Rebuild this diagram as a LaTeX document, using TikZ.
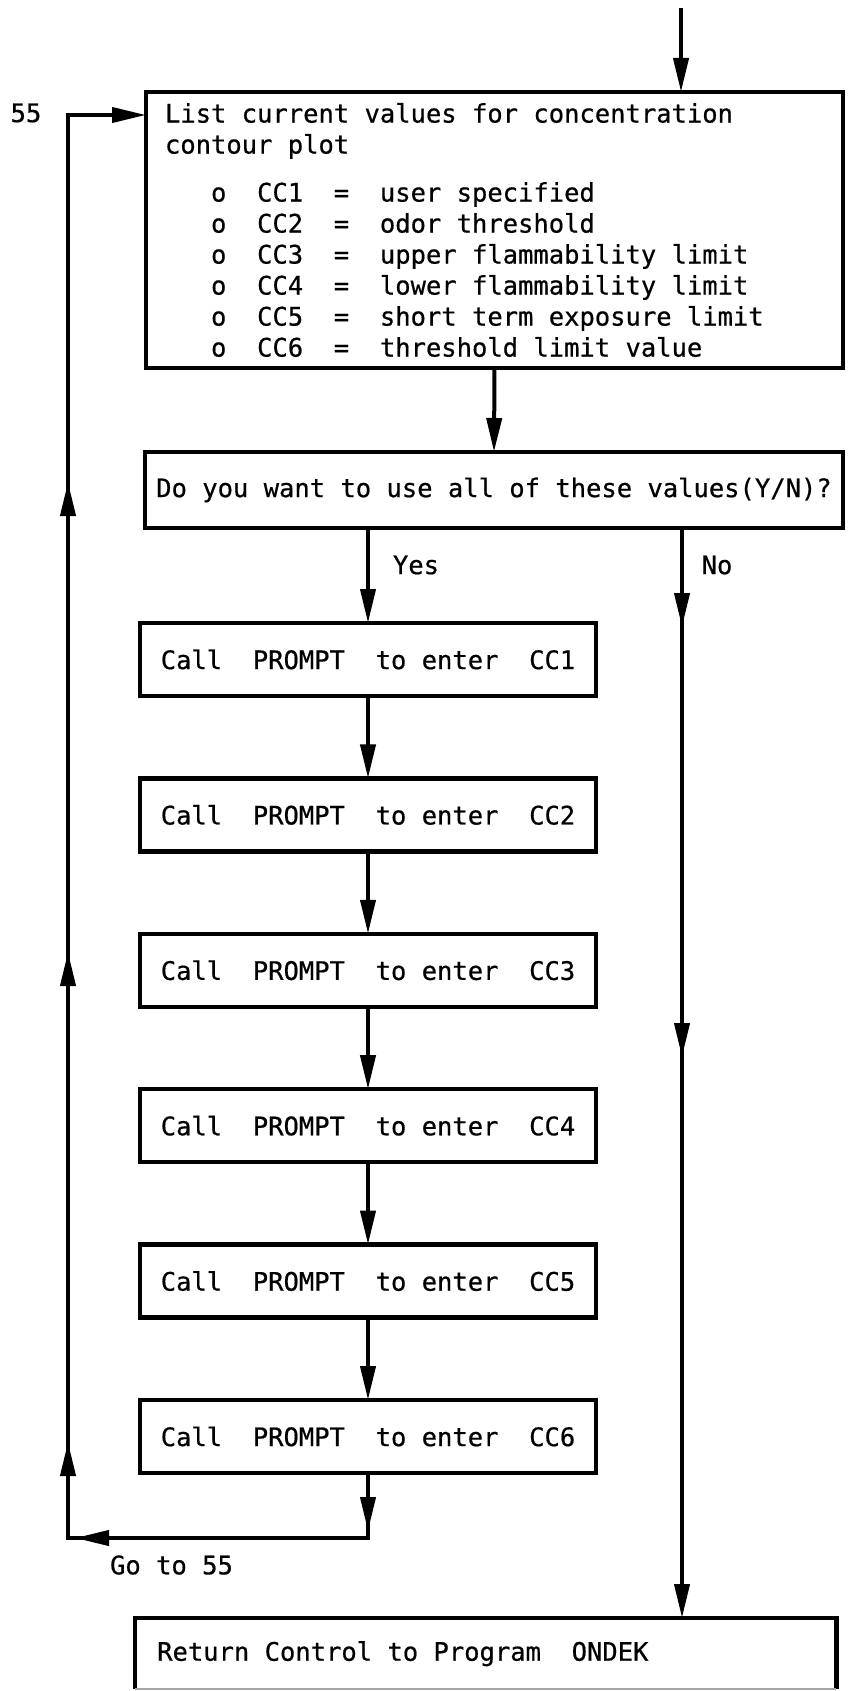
\documentclass[tikz,border=0pt]{standalone}
\usepackage{fontspec}
\newfontfamily\tw[WordSpace={1,0,0},FakeBold=0.6]{DejaVu Sans Mono}
\usetikzlibrary{arrows.meta,decorations.markings}
\begin{document}
\begin{tikzpicture}[x=1pt,y=-1pt,
  font=\tw\fontsize{25.5pt}{31pt}\selectfont,
  box/.style={draw, line width=4.5pt, anchor=north west, inner sep=0pt, outer sep=0pt},
  ccbox/.style={box, minimum width=456pt, minimum height=73pt},
  conn/.style={line width=4pt},
  arr/.style={conn, -{Triangle[length=34pt,width=15pt]}},
  tipmark/.style={postaction={decorate,decoration={markings,
      mark=at position #1 with {\arrow{Triangle[length=34pt,width=15pt]}}}}},
  lbl/.style={inner sep=0pt}
]
\useasboundingbox (0,0) rectangle (847,1691);

% boxes
\node[box, minimum width=697pt, minimum height=276pt, inner xsep=19pt,
      text width=659pt, align=left] (box1) at (146,92)
  {\spaceskip=0pt\relax
   List current values for concentration\\
   contour plot\\[17pt]
   \phantom{ooo}o\ \ CC1\ \ =\ \ user specified\\
   \phantom{ooo}o\ \ CC2\ \ =\ \ odor threshold\\
   \phantom{ooo}o\ \ CC3\ \ =\ \ upper flammability limit\\
   \phantom{ooo}o\ \ CC4\ \ =\ \ lower flammability limit\\
   \phantom{ooo}o\ \ CC5\ \ =\ \ short term exposure limit\\
   \phantom{ooo}o\ \ CC6\ \ =\ \ threshold limit value};

\node[box, minimum width=698pt, minimum height=76pt] (yn) at (145,452)
  {Do you want to use all of these values(Y/N)?};

\node[ccbox] (cc1) at (140,623)   {Call\ \ PROMPT\ \ to enter\ \ CC1};
\node[ccbox] (cc2) at (140,778.4) {Call\ \ PROMPT\ \ to enter\ \ CC2};
\node[ccbox] (cc3) at (140,933.8) {Call\ \ PROMPT\ \ to enter\ \ CC3};
\node[ccbox] (cc4) at (140,1089.2){Call\ \ PROMPT\ \ to enter\ \ CC4};
\node[ccbox] (cc5) at (140,1244.6){Call\ \ PROMPT\ \ to enter\ \ CC5};
\node[ccbox] (cc6) at (140,1400)  {Call\ \ PROMPT\ \ to enter\ \ CC6};

\node[anchor=north west, inner sep=0pt, inner xsep=22pt, minimum width=701pt,
      minimum height=71pt, text width=657pt, align=left] (ret) at (135,1618)
  {\spaceskip=0pt\relax Return Control to Program\ \ ONDEK};
\draw[line width=4.5pt] (ret.south west) -- (ret.north west) -- (ret.north east) -- (ret.south east);
\draw[line width=2pt, black!35] (ret.south west) -- (ret.south east);

% labels
\node[lbl] (l55) at (26,113) {55};
\node[lbl] (lyes) at (416,565) {Yes};
\node[lbl] (lno) at (717,565) {No};
\node[lbl] (lgo) at (171.5,1565) {Go to 55};

% connectors
\coordinate (entry) at (681,8);
\draw[arr] (entry) -- (entry |- box1.north);
\draw[arr] (box1.south) -- (yn.north);
\draw[arr] (cc1.north |- yn.south) -- (cc1.north);
\draw[arr] (cc1.south) -- (cc2.north);
\draw[arr] (cc2.south) -- (cc3.north);
\draw[arr] (cc3.south) -- (cc4.north);
\draw[arr] (cc4.south) -- (cc5.north);
\draw[arr] (cc5.south) -- (cc6.north);

\coordinate (nx) at (682,0);
\draw[arr, tipmark=99pt, tipmark=529pt] (nx |- yn.south) -- (nx |- ret.north);

\coordinate (c1) at (cc6.south |- 0,1538);
\coordinate (c2) at (68,1538);
\coordinate (c3) at (68,115);
\draw[arr, tipmark=58pt, tipmark=358pt, tipmark=461pt, tipmark=951pt, tipmark=1421pt]
  (cc6.south) -- (c1) -- (c2) -- (c3) -- (c3 -| box1.west);
\end{tikzpicture}
\end{document}
